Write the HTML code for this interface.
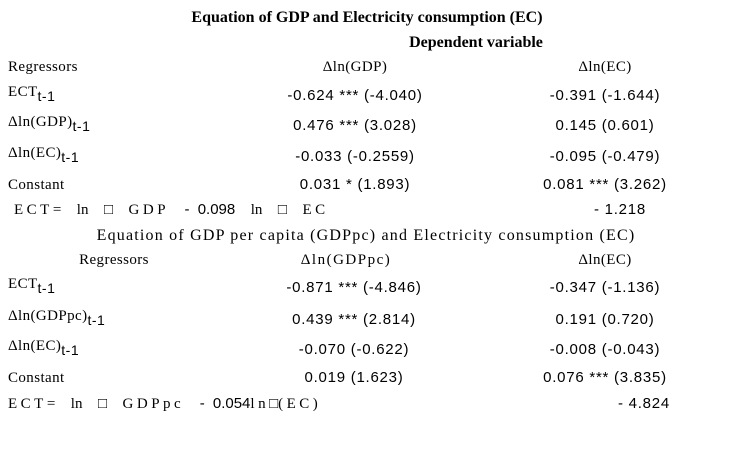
<!DOCTYPE html>
<html><head><meta charset="utf-8"><style>
body{margin:0;width:731px;height:453px;background:#fff;position:relative;overflow:hidden;font-family:"Liberation Serif",serif;color:#000;}
.t{position:absolute;font-size:15px;line-height:16px;white-space:nowrap;letter-spacing:0.4px;}
.c{transform:translateX(-50%);}
.b{font-weight:bold;font-size:16px;letter-spacing:0;}
.n{font-family:"Liberation Sans",sans-serif;font-size:15px;letter-spacing:0.75px;}
sub{font-family:"Liberation Sans",sans-serif;font-size:14px;vertical-align:-5px;line-height:0;letter-spacing:0.5px;}
.sp{letter-spacing:3.5px;}
</style></head><body>
<div class="t c b" style="left:367px;top:10px">Equation of GDP and Electricity consumption (EC)</div>
<div class="t c b" style="left:476px;top:35px">Dependent variable</div>

<div class="t" style="left:8px;top:59px">Regressors</div>
<div class="t c" style="left:355px;top:59px">Δln(GDP)</div>
<div class="t c" style="left:605px;top:59px">Δln(EC)</div>

<div class="t" style="left:8px;top:84px">ECT<sub>t-1</sub></div>
<div class="t c n" style="left:355px;top:88px">-0.624 *** (-4.040)</div>
<div class="t c n" style="left:605px;top:88px">-0.391 (-1.644)</div>

<div class="t" style="left:8px;top:114px">Δln(GDP)<sub>t-1</sub></div>
<div class="t c n" style="left:355px;top:118px">0.476 *** (3.028)</div>
<div class="t c n" style="left:605px;top:118px">0.145 (0.601)</div>

<div class="t" style="left:8px;top:145px">Δln(EC)<sub>t-1</sub></div>
<div class="t c n" style="left:355px;top:149px">-0.033 (-0.2559)</div>
<div class="t c n" style="left:605px;top:149px">-0.095 (-0.479)</div>

<div class="t" style="left:8px;top:177px">Constant</div>
<div class="t c n" style="left:355px;top:177px">0.031 * (1.893)</div>
<div class="t c n" style="left:605px;top:177px">0.081 *** (3.262)</div>

<div class="t" style="left:14px;top:202px;word-spacing:4px;letter-spacing:0"><span class="sp">ECT</span>= &nbsp;ln &nbsp;□ &nbsp;<span class="sp">GDP</span> &nbsp;<span class="n" style="letter-spacing:0">- 0.098</span> &nbsp;ln &nbsp;□ &nbsp;<span class="sp">EC</span></div>
<div class="t n" style="left:594px;top:202px">- 1.218</div>

<div class="t c" style="left:366px;top:228px;font-size:16px;letter-spacing:1.2px">Equation of GDP per capita (GDPpc) and Electricity consumption (EC)</div>
<div class="t c" style="left:114px;top:252px">Regressors</div>
<div class="t c" style="left:346px;top:252px;letter-spacing:1.5px">Δln(GDPpc)</div>
<div class="t c" style="left:605px;top:252px">Δln(EC)</div>

<div class="t" style="left:8px;top:276px">ECT<sub>t-1</sub></div>
<div class="t c n" style="left:354px;top:280px">-0.871 *** (-4.846)</div>
<div class="t c n" style="left:605px;top:280px">-0.347 (-1.136)</div>

<div class="t" style="left:8px;top:308px">Δln(GDPpc)<sub>t-1</sub></div>
<div class="t c n" style="left:354px;top:312px">0.439 *** (2.814)</div>
<div class="t c n" style="left:605px;top:312px">0.191 (0.720)</div>

<div class="t" style="left:8px;top:338px">Δln(EC)<sub>t-1</sub></div>
<div class="t c n" style="left:354px;top:342px">-0.070 (-0.622)</div>
<div class="t c n" style="left:605px;top:342px">-0.008 (-0.043)</div>

<div class="t" style="left:8px;top:370px">Constant</div>
<div class="t c n" style="left:354px;top:370px">0.019 (1.623)</div>
<div class="t c n" style="left:605px;top:370px">0.076 *** (3.835)</div>

<div class="t" style="left:8px;top:396px;word-spacing:4px;letter-spacing:0"><span class="sp">ECT</span>= &nbsp;ln &nbsp;□ &nbsp;<span class="sp">GDPpc</span> &nbsp;<span class="n" style="letter-spacing:0">- 0.054</span><span class="sp">ln</span>□<span class="sp">(EC)</span></div>
<div class="t n" style="left:618px;top:396px">- 4.824</div>
</body></html>
